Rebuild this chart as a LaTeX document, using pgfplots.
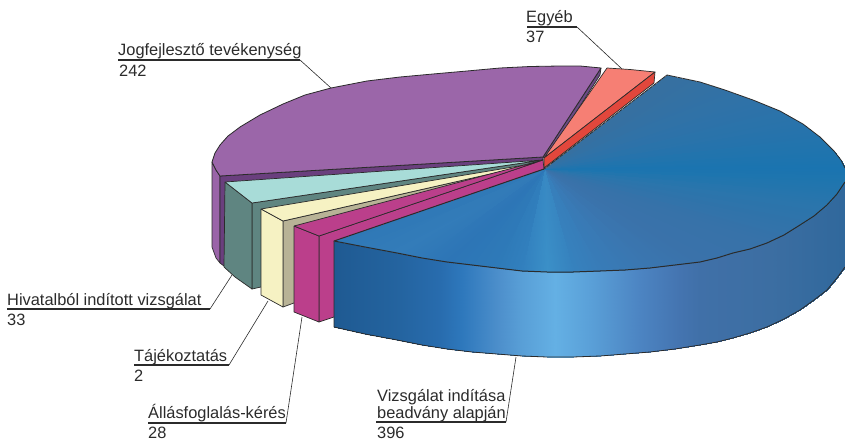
\documentclass[border=0pt]{standalone}
\usepackage{fontspec}
\setmainfont{Liberation Sans}
\usepackage{pgfplots}
\pgfplotsset{compat=1.18}
\definecolor{ln}{HTML}{2B2B2B}
\pgfplotsset{colormap={pie}{
rgb255(0pt)=(31,90,146) rgb255(334pt)=(31,90,146) rgb255(400pt)=(36,100,160) rgb255(440pt)=(40,108,174)
rgb255(462pt)=(46,120,188) rgb255(500pt)=(78,144,204) rgb255(520pt)=(88,158,214) rgb255(555pt)=(100,176,228)
rgb255(590pt)=(90,160,216) rgb255(640pt)=(76,132,194) rgb255(680pt)=(68,116,176) rgb255(700pt)=(64,112,168)
rgb255(770pt)=(60,110,162) rgb255(845pt)=(48,104,156) rgb255(1000pt)=(55,112,160)
rgb255(1060pt)=(47,114,168) rgb255(1100pt)=(40,115,171) rgb255(1140pt)=(31,116,174) rgb255(1180pt)=(26,116,176)
rgb255(1200pt)=(31,117,174) rgb255(1240pt)=(42,117,172) rgb255(1280pt)=(48,115,170) rgb255(1320pt)=(55,114,169)
rgb255(1400pt)=(58,114,170) rgb255(1440pt)=(58,118,176) rgb255(1480pt)=(56,124,184) rgb255(1500pt)=(54,130,190)
rgb255(1520pt)=(59,144,200) rgb255(1540pt)=(50,128,190) rgb255(1560pt)=(46,122,184) rgb255(1600pt)=(45,117,182)
rgb255(1640pt)=(51,124,185) rgb255(1680pt)=(47,120,182)
}}
\begin{document}
\begin{tikzpicture}
\path[use as bounding box] (0,0) rectangle (845pt,444pt);
\begin{axis}[at={(0,0)},anchor=south west,scale only axis,width=845pt,height=444pt,
 xmin=0,xmax=845,ymin=0,ymax=444,y dir=reverse,hide axis,
 point meta min=0,point meta max=1680,colormap name=pie,
 every axis plot/.append style={line join=round}]
% purple
\addplot[fill={rgb,255:red,154;green,100;blue,168},draw=ln,line width=.7pt] coordinates {(212,162)(216,170)(220,176)(220,263)(216,258)(212,247)(212,162)};
\addplot[fill={rgb,255:red,106;green,63;blue,126},draw=ln,line width=.7pt] coordinates {(220,176)(220,263)(224,266)(240,260)(543,160)(543,157)(220,176)};
\addplot[fill={rgb,255:red,107;green,74;blue,133},draw=ln,line width=.7pt] coordinates {(601,68)(600,75)(546,159)(543,157)(601,68)};
\addplot[fill={rgb,255:red,155;green,102;blue,169},draw=ln,line width=.8pt] coordinates {(543,157)(601,68)(580,66)(560,66)(530,66.5)(500,68)(467,71)(433,74)(400,77)(367,81)(331,88)(305,95)(283,104)(260,115)(240,127)(228,136)(220,145)(215,153)(212,162)(216,170)(220,176)(543,157)};
% salmon, red
\addplot[fill={rgb,255:red,246;green,127;blue,116},draw=ln,line width=.7pt] coordinates {(544,158)(607,68)(630,69.5)(655,72)(544,158)};
\addplot[fill={rgb,255:red,226;green,71;blue,60},draw=ln,line width=.7pt] coordinates {(544,158)(655,72)(654,83)(544,168)(544,158)};
% teal
\addplot[fill={rgb,255:red,95;green,133;blue,129},draw=ln,line width=.7pt] coordinates {(252,203)(252,289)(261,287)(270,280)(543,160)(252,203)};
\addplot[fill={rgb,255:red,95;green,133;blue,129},draw=ln,line width=.7pt] coordinates {(225,182)(252,203)(252,289)(235,277)(224,267)(225,182)};
\addplot[fill={rgb,255:red,168;green,220;blue,216},draw=ln,line width=.7pt] coordinates {(225,182)(252,203)(543,160)(225,182)};
% cream
\addplot[fill={rgb,255:red,184;green,179;blue,150},draw=ln,line width=.7pt] coordinates {(283,221)(283,307)(294,303)(310,290)(543,162)(283,221)};
\addplot[fill={rgb,255:red,246;green,242;blue,195},draw=ln,line width=.7pt] coordinates {(261,209)(283,221)(283,307)(261,295)(261,209)};
\addplot[fill={rgb,255:red,246;green,242;blue,195},draw=ln,line width=.7pt] coordinates {(261,209)(283,221)(543,162)(261,209)};
% magenta
\addplot[fill={rgb,255:red,187;green,63;blue,139},draw=ln,line width=.7pt] coordinates {(319,236)(319,322)(334,317)(340,315)(544,169)(543,160)(319,236)};
\addplot[fill={rgb,255:red,187;green,63;blue,139},draw=ln,line width=.7pt] coordinates {(294,226)(319,236)(319,322)(294,312)(294,226)};
\addplot[fill={rgb,255:red,187;green,63;blue,139},draw=ln,line width=.7pt] coordinates {(294,226)(319,236)(543,160)(294,226)};
% blue side
\addplot[patch,patch type=rectangle,shader=interp,point meta=explicit] table[meta=m,row sep=\\]{x y m\\
334 241 334\\334 327 334\\365 334 365\\365 247 365\\
365 247 365\\365 334 365\\397 340 397\\397 253 397\\
397 253 397\\397 340 397\\422 345 422\\422 258 422\\
422 258 422\\422 345 422\\447 349 447\\447 262 447\\
447 262 447\\447 349 447\\472 352 472\\472 265 472\\
472 265 472\\472 352 472\\497 354 497\\497 268 497\\
497 268 497\\497 354 497\\522 356 522\\522 271 522\\
522 271 522\\522 356 522\\547 357 547\\547 272 547\\
547 272 547\\547 357 547\\573 357 573\\573 272 573\\
573 272 573\\573 357 573\\600 356 600\\600 271 600\\
600 271 600\\600 356 600\\625 354 625\\625 270 625\\
625 270 625\\625 354 625\\650 352 650\\650 268 650\\
650 268 650\\650 352 650\\675 349 675\\675 265 675\\
675 265 675\\675 349 675\\700 345 700\\700 262 700\\
700 262 700\\700 345 700\\717 342 717\\717 258 717\\
717 258 717\\717 342 717\\733 338 733\\733 253 733\\
733 253 733\\733 338 733\\750 333 750\\750 249 750\\
750 249 750\\750 333 750\\767 327 767\\767 243 767\\
767 243 767\\767 327 767\\784 319 784\\784 235 784\\
784 235 784\\784 319 784\\800 310 800\\800 225 800\\
800 225 800\\800 310 800\\814 300 814\\814 216 814\\
814 216 814\\814 300 814\\827 290 827\\827 205 827\\
827 205 827\\827 290 827\\837 278 837\\837 194 837\\
837 194 837\\837 278 837\\845 267 845\\845 182 845\\
};
% blue top fan
\addplot[patch,shader=interp,point meta=explicit] table[meta=m,row sep=\\]{x y m\\
544 169 1010\\667 75 1000\\700 82 1020\\
544 169 1030\\700 82 1020\\725 90 1040\\
544 169 1050\\725 90 1040\\753 100 1060\\
544 169 1070\\753 100 1060\\780 111 1080\\
544 169 1090\\780 111 1080\\803 124 1100\\
544 169 1110\\803 124 1100\\820 137 1120\\
544 169 1130\\820 137 1120\\834 151 1140\\
544 169 1150\\834 151 1140\\841 160 1160\\
544 169 1170\\841 160 1160\\845 168 1180\\
544 169 1190\\845 168 1180\\845 182 1200\\
544 169 1210\\845 182 1200\\837 194 1220\\
544 169 1230\\837 194 1220\\827 205 1240\\
544 169 1250\\827 205 1240\\814 216 1260\\
544 169 1270\\814 216 1260\\800 225 1280\\
544 169 1290\\800 225 1280\\784 235 1300\\
544 169 1310\\784 235 1300\\767 243 1320\\
544 169 1330\\767 243 1320\\750 249 1340\\
544 169 1350\\750 249 1340\\733 253 1360\\
544 169 1370\\733 253 1360\\717 258 1380\\
544 169 1390\\717 258 1380\\700 262 1400\\
544 169 1410\\700 262 1400\\675 265 1420\\
544 169 1430\\675 265 1420\\650 268 1440\\
544 169 1450\\650 268 1440\\625 270 1460\\
544 169 1470\\625 270 1460\\600 271 1480\\
544 169 1490\\600 271 1480\\573 272 1500\\
544 169 1510\\573 272 1500\\547 272 1520\\
544 169 1530\\547 272 1520\\522 271 1540\\
544 169 1550\\522 271 1540\\497 268 1560\\
544 169 1570\\497 268 1560\\472 265 1580\\
544 169 1590\\472 265 1580\\447 262 1600\\
544 169 1610\\447 262 1600\\422 258 1620\\
544 169 1630\\422 258 1620\\397 253 1640\\
544 169 1650\\397 253 1640\\365 247 1660\\
544 169 1670\\365 247 1660\\334 241 1680\\
};
% blue outlines
\addplot[draw=ln,line width=.8pt] coordinates {(544,169)(667,75)(700,82)(725,90)(753,100)(780,111)(803,124)(820,137)(834,151)(841,160)(845,168)};
\addplot[draw=ln,line width=1pt] coordinates {(845,182)(837,194)(827,205)(814,216)(800,225)(784,235)(767,243)(750,249)(733,253)(717,258)(700,262)(675,265)(650,268)(625,270)(600,271)(573,272)(547,272)(522,271)(497,268)(472,265)(447,262)(422,258)(397,253)(365,247)(334,241)(544,169)};
\addplot[draw=ln,line width=.8pt] coordinates {(334,241)(334,327)(365,334)(397,340)(422,345)(447,349)(472,352)(497,354)(522,356)(547,357)(573,357)(600,356)(625,354)(650,352)(675,349)(700,345)(717,342)(733,338)(750,333)(767,327)(784,319)(800,310)(814,300)(827,290)(837,278)(845,267)};
% leaders
\addplot[draw=ln,line width=.6pt] coordinates {(577,27)(622,69)};
\addplot[draw=ln,line width=.6pt] coordinates {(300,60)(331,88)};
\addplot[draw=ln,line width=.6pt] coordinates {(210,309)(232,275)};
\addplot[draw=ln,line width=.6pt] coordinates {(229,365)(268,301)};
\addplot[draw=ln,line width=.6pt] coordinates {(286,423)(302,317)};
\addplot[draw=ln,line width=.6pt] coordinates {(506,422)(516,357)};
% underlines
\addplot[draw=ln,line width=1.6pt] coordinates {(527,27)(577,27)};
\addplot[draw=ln,line width=1.6pt] coordinates {(118,60)(300,60)};
\addplot[draw=ln,line width=1.6pt] coordinates {(7,309)(210,309)};
\addplot[draw=ln,line width=1.6pt] coordinates {(134,365)(229,365)};
\addplot[draw=ln,line width=1.6pt] coordinates {(148,423)(286,423)};
\addplot[draw=ln,line width=1.6pt] coordinates {(376,422)(506,422)};
% labels
\tikzset{lb/.style={anchor=base west,inner sep=0pt,text=ln,font=\fontsize{16.4}{18}\selectfont}}
\node[lb] at (axis cs:526,23) {Egyéb};
\node[lb] at (axis cs:526,43) {37};
\node[lb] at (axis cs:118,56) {Jogfejlesztő tevékenység};
\node[lb] at (axis cs:119,77) {242};
\node[lb] at (axis cs:7,305) {Hivatalból indított vizsgálat};
\node[lb] at (axis cs:7,325) {33};
\node[lb] at (axis cs:134,361) {Tájékoztatás};
\node[lb] at (axis cs:134,381) {2};
\node[lb] at (axis cs:148,418) {Állásfoglalás-kérés};
\node[lb] at (axis cs:148,438) {28};
\node[lb] at (axis cs:377,401) {Vizsgálat indítása};
\node[lb] at (axis cs:377,418) {beadvány alapján};
\node[lb] at (axis cs:377,438) {396};
\end{axis}
\end{tikzpicture}
\end{document}
